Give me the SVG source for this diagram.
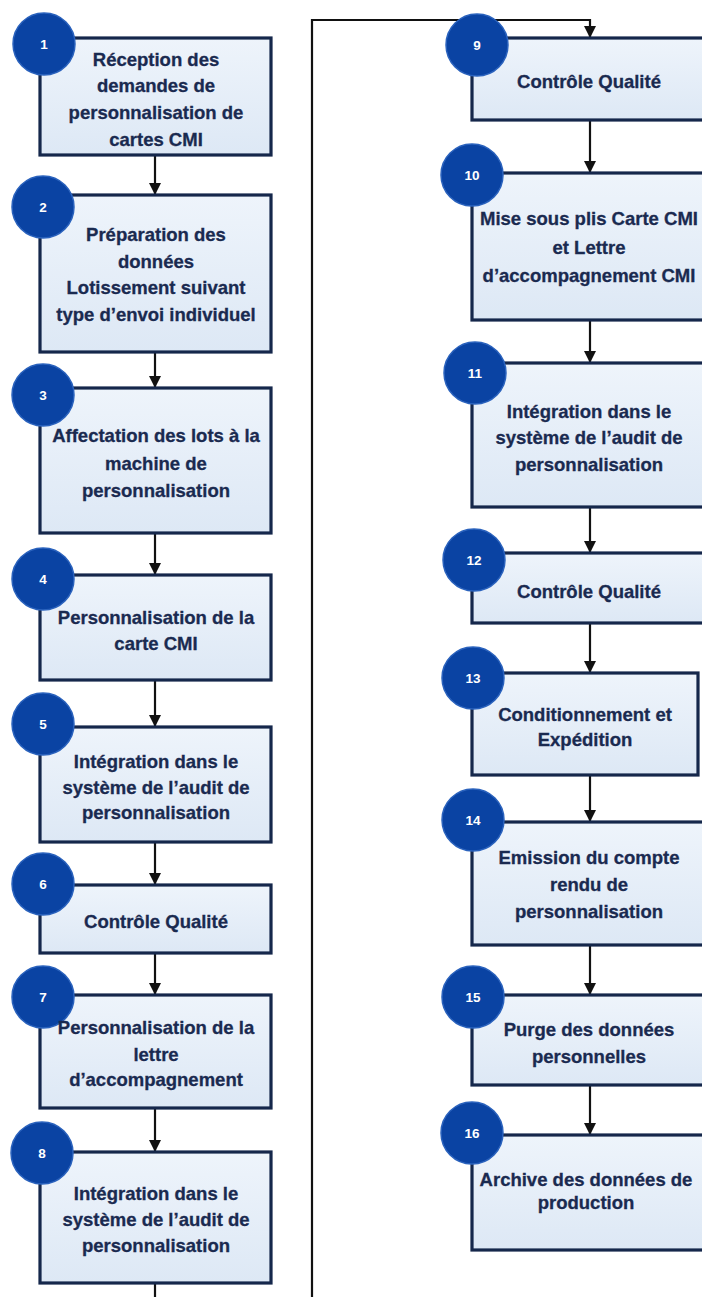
<svg xmlns="http://www.w3.org/2000/svg" width="702" height="1297" viewBox="0 0 702 1297">
<style>
.box{fill:url(#bg);stroke:#15274b;stroke-width:3.2}
.num{fill:#0a43a3;stroke:#2a62bd;stroke-width:1.5}
.nt{font-family:"Liberation Sans",Arial,sans-serif;font-weight:bold;font-size:13.5px;fill:#ffffff;text-anchor:middle}
.t{font-family:"Liberation Sans",Arial,sans-serif;font-weight:bold;font-size:18.5px;fill:#1a2a50;stroke:#1a2a50;stroke-width:0.3;text-anchor:middle}
.c{fill:none;stroke:#111111;stroke-width:2.2}
</style>
<defs>
<linearGradient id="bg" x1="0" y1="0" x2="0" y2="1">
<stop offset="0" stop-color="#eef4fb"/>
<stop offset="1" stop-color="#dde8f5"/>
</linearGradient>
<marker id="a" viewBox="0 0 12 12" refX="12" refY="6" markerWidth="12" markerHeight="12" markerUnits="userSpaceOnUse" orient="auto">
<path d="M0,0 L12,6 L0,12 z" fill="#111111"/>
</marker>
</defs>
<rect width="702" height="1297" fill="#ffffff"/>

<g id="connectors">
<line class="c" x1="155" y1="155" x2="155" y2="195" marker-end="url(#a)"/>
<line class="c" x1="155" y1="352" x2="155" y2="388" marker-end="url(#a)"/>
<line class="c" x1="155" y1="533" x2="155" y2="575" marker-end="url(#a)"/>
<line class="c" x1="155" y1="680" x2="155" y2="727" marker-end="url(#a)"/>
<line class="c" x1="155" y1="842" x2="155" y2="885" marker-end="url(#a)"/>
<line class="c" x1="155" y1="953" x2="155" y2="995" marker-end="url(#a)"/>
<line class="c" x1="155" y1="1108" x2="155" y2="1152" marker-end="url(#a)"/>
<line class="c" x1="155" y1="1283" x2="155" y2="1297"/>
<polyline class="c" points="312,1297 312,20 590,20 590,38" marker-end="url(#a)"/>
<line class="c" x1="590" y1="120" x2="590" y2="173" marker-end="url(#a)"/>
<line class="c" x1="590" y1="320" x2="590" y2="363" marker-end="url(#a)"/>
<line class="c" x1="590" y1="507" x2="590" y2="553" marker-end="url(#a)"/>
<line class="c" x1="590" y1="623" x2="590" y2="673" marker-end="url(#a)"/>
<line class="c" x1="590" y1="775" x2="590" y2="822" marker-end="url(#a)"/>
<line class="c" x1="590" y1="945" x2="590" y2="995" marker-end="url(#a)"/>
<line class="c" x1="590" y1="1085" x2="590" y2="1135" marker-end="url(#a)"/>
</g>

<g id="n1">
<rect class="box" x="40" y="38" width="231" height="117"/>
<circle class="num" cx="44" cy="44" r="31"/><text class="nt" x="44" y="49">1</text>
<text class="t" x="156" y="66">Réception des</text>
<text class="t" x="156" y="92">demandes de</text>
<text class="t" x="156" y="119">personnalisation de</text>
<text class="t" x="156" y="146">cartes CMI</text>
</g>
<g id="n2">
<rect class="box" x="40" y="195" width="231" height="157"/>
<circle class="num" cx="43" cy="207" r="31"/><text class="nt" x="43" y="212">2</text>
<text class="t" x="156" y="241">Préparation des</text>
<text class="t" x="156" y="268">données</text>
<text class="t" x="156" y="294">Lotissement suivant</text>
<text class="t" x="156" y="321">type d’envoi individuel</text>
</g>
<g id="n3">
<rect class="box" x="40" y="388" width="231" height="145"/>
<circle class="num" cx="43" cy="395" r="31"/><text class="nt" x="43" y="400">3</text>
<text class="t" x="156" y="442">Affectation des lots à la</text>
<text class="t" x="156" y="470">machine de</text>
<text class="t" x="156" y="497">personnalisation</text>
</g>
<g id="n4">
<rect class="box" x="40" y="575" width="231" height="105"/>
<circle class="num" cx="43" cy="579" r="31"/><text class="nt" x="43" y="584">4</text>
<text class="t" x="156" y="624">Personnalisation de la</text>
<text class="t" x="156" y="650">carte CMI</text>
</g>
<g id="n5">
<rect class="box" x="40" y="727" width="231" height="115"/>
<circle class="num" cx="43" cy="724" r="31"/><text class="nt" x="43" y="729">5</text>
<text class="t" x="156" y="768">Intégration dans le</text>
<text class="t" x="156" y="794">système de l’audit de</text>
<text class="t" x="156" y="819">personnalisation</text>
</g>
<g id="n6">
<rect class="box" x="40" y="885" width="231" height="68"/>
<circle class="num" cx="43" cy="884" r="31"/><text class="nt" x="43" y="889">6</text>
<text class="t" x="156" y="928">Contrôle Qualité</text>
</g>
<g id="n7">
<rect class="box" x="40" y="995" width="231" height="113"/>
<circle class="num" cx="43" cy="997" r="31"/><text class="nt" x="43" y="1002">7</text>
<text class="t" x="156" y="1034">Personnalisation de la</text>
<text class="t" x="156" y="1061">lettre</text>
<text class="t" x="156" y="1086">d’accompagnement</text>
</g>
<g id="n8">
<rect class="box" x="40" y="1152" width="231" height="131"/>
<circle class="num" cx="42" cy="1153" r="31"/><text class="nt" x="42" y="1158">8</text>
<text class="t" x="156" y="1200">Intégration dans le</text>
<text class="t" x="156" y="1226">système de l’audit de</text>
<text class="t" x="156" y="1252">personnalisation</text>
</g>

<g id="n9">
<rect class="box" x="472" y="38" width="236" height="82"/>
<circle class="num" cx="477" cy="45" r="31"/><text class="nt" x="477" y="50">9</text>
<text class="t" x="589" y="88">Contrôle Qualité</text>
</g>
<g id="n10">
<rect class="box" x="472" y="173" width="236" height="147"/>
<circle class="num" cx="472" cy="175" r="31"/><text class="nt" x="472" y="180">10</text>
<text class="t" x="589" y="225">Mise sous plis Carte CMI</text>
<text class="t" x="589" y="254">et Lettre</text>
<text class="t" x="589" y="282">d’accompagnement CMI</text>
</g>
<g id="n11">
<rect class="box" x="472" y="363" width="236" height="144"/>
<circle class="num" cx="475" cy="373" r="31"/><text class="nt" x="475" y="378">11</text>
<text class="t" x="589" y="418">Intégration dans le</text>
<text class="t" x="589" y="444">système de l’audit de</text>
<text class="t" x="589" y="471">personnalisation</text>
</g>
<g id="n12">
<rect class="box" x="472" y="553" width="236" height="70"/>
<circle class="num" cx="474" cy="560" r="31"/><text class="nt" x="474" y="565">12</text>
<text class="t" x="589" y="598">Contrôle Qualité</text>
</g>
<g id="n13">
<rect class="box" x="472" y="673" width="226" height="102"/>
<circle class="num" cx="473" cy="678" r="31"/><text class="nt" x="473" y="683">13</text>
<text class="t" x="585" y="721">Conditionnement et</text>
<text class="t" x="585" y="746">Expédition</text>
</g>
<g id="n14">
<rect class="box" x="472" y="822" width="236" height="123"/>
<circle class="num" cx="473" cy="820" r="31"/><text class="nt" x="473" y="825">14</text>
<text class="t" x="589" y="864">Emission du compte</text>
<text class="t" x="589" y="891">rendu de</text>
<text class="t" x="589" y="918">personnalisation</text>
</g>
<g id="n15">
<rect class="box" x="472" y="995" width="236" height="90"/>
<circle class="num" cx="473" cy="997" r="31"/><text class="nt" x="473" y="1002">15</text>
<text class="t" x="589" y="1036">Purge des données</text>
<text class="t" x="589" y="1063">personnelles</text>
</g>
<g id="n16">
<rect class="box" x="472" y="1135" width="236" height="115"/>
<circle class="num" cx="472" cy="1133" r="31"/><text class="nt" x="472" y="1138">16</text>
<text class="t" x="586" y="1186">Archive des données de</text>
<text class="t" x="586" y="1209">production</text>
</g>
</svg>
